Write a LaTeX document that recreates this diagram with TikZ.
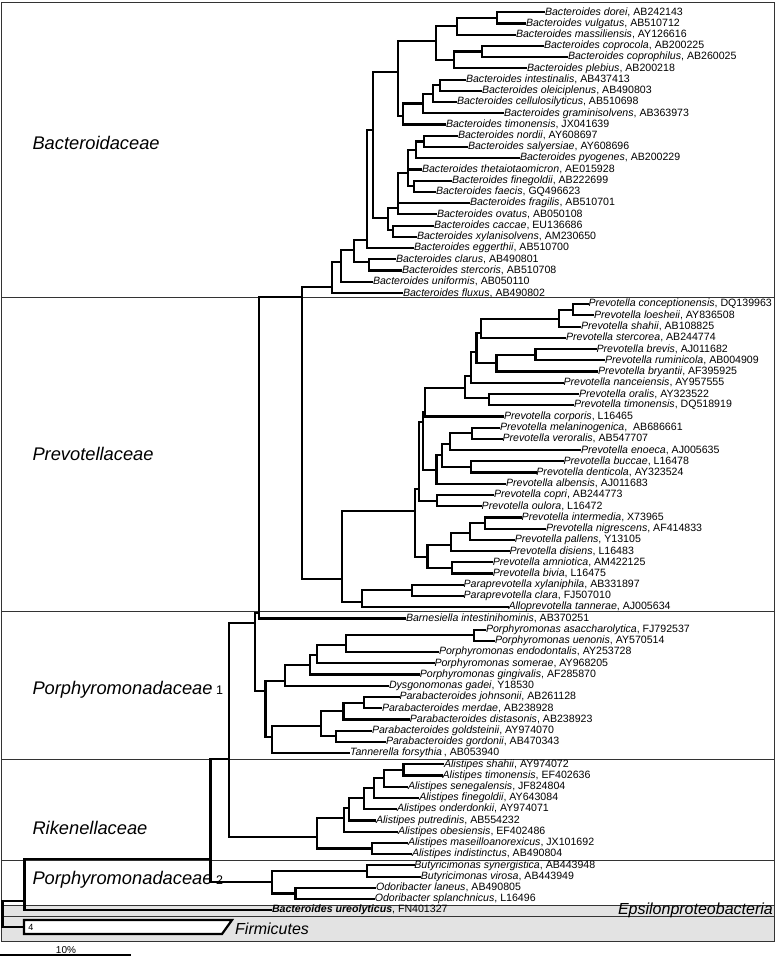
\documentclass[tikz,border=0pt]{standalone}
\usepackage{fontspec}
\setmainfont{Liberation Sans}
\begin{document}
\begin{tikzpicture}[x=1pt, y=-1pt,
   branch/.style={line width=2.2pt, line cap=rect},
   leaf/.style={anchor=west, inner sep=0.8pt, font=\fontsize{10.6}{12}\selectfont},
   family/.style={anchor=west, inner sep=0pt, font=\fontsize{18.3}{20}\selectfont\itshape},
   outgroup/.style={inner sep=0pt, font=\fontsize{16}{18}\selectfont\itshape},
   box/.style={draw=black!80, line width=0.8pt}]
   \useasboundingbox (0,0) rectangle (776,958);

   % boxes of the families
   \fill[gray!22] (1.5,905.5) rectangle (774.5,941);
   \draw[box] (1.5,2.5) rectangle (774.5,941);
   \foreach \yy in {297.5, 611, 759.5, 860.5, 905.5, 916.5}
      \draw[box] (1.5,\yy) -- (774.5,\yy);

   \node[family] (famBac) at (32.3,142.5) {Bacteroidaceae};
   \node[family] (famPre) at (32.3,453.5) {Prevotellaceae};
   \node[family] (famPorA) at (32.3,689.3) {Porphyromonadaceae\upshape\fontsize{12.5}{14}\selectfont\ 1};
   \node[family] (famRik) at (32.3,827.7) {Rikenellaceae};
   \node[family] (famPorB) at (32.3,879.3) {Porphyromonadaceae\upshape\fontsize{12.5}{14}\selectfont\ 2};
   \node[outgroup, anchor=east] (famEps) at (773,910) {Epsilonproteobacteria};
   \node[outgroup, anchor=west] (famFir) at (235,929) {Firmicutes};

   % Bacteroidaceae
   \node[leaf] (bdorei) at (544,12.3) {\textit{Bacteroides dorei}, AB242143};
   \node[leaf] (bvulgatus) at (525,23.5) {\textit{Bacteroides vulgatus}, AB510712};
   \node[leaf] (bmassil) at (515,34.7) {\textit{Bacteroides massiliensis}, AY126616};
   \node[leaf] (bcoproc) at (543,46.0) {\textit{Bacteroides coprocola}, AB200225};
   \node[leaf] (bcoproph) at (567,57.2) {\textit{Bacteroides coprophilus}, AB260025};
   \node[leaf] (bplebius) at (526,68.4) {\textit{Bacteroides plebius}, AB200218};
   \node[leaf] (bintest) at (465,79.6) {\textit{Bacteroides intestinalis}, AB437413};
   \node[leaf] (boleic) at (481,90.9) {\textit{Bacteroides oleiciplenus}, AB490803};
   \node[leaf] (bcellul) at (456,102.1) {\textit{Bacteroides cellulosilyticus}, AB510698};
   \node[leaf] (bgramin) at (503,113.3) {\textit{Bacteroides graminisolvens}, AB363973};
   \node[leaf] (btimon) at (445,124.5) {\textit{Bacteroides timonensis}, JX041639};
   \node[leaf] (bnordii) at (457,135.8) {\textit{Bacteroides nordii}, AY608697};
   \node[leaf] (bsalyer) at (467,147.0) {\textit{Bacteroides salyersiae}, AY608696};
   \node[leaf] (bpyog) at (519,158.2) {\textit{Bacteroides pyogenes}, AB200229};
   \node[leaf] (btheta) at (421,169.4) {\textit{Bacteroides thetaiotaomicron}, AE015928};
   \node[leaf] (bfineg) at (451,180.7) {\textit{Bacteroides finegoldii}, AB222699};
   \node[leaf] (bfaecis) at (435,191.9) {\textit{Bacteroides faecis}, GQ496623};
   \node[leaf] (bfragil) at (469,203.1) {\textit{Bacteroides fragilis}, AB510701};
   \node[leaf] (bovatus) at (436,214.3) {\textit{Bacteroides ovatus}, AB050108};
   \node[leaf] (bcaccae) at (433,225.6) {\textit{Bacteroides caccae}, EU136686};
   \node[leaf] (bxylan) at (416,236.8) {\textit{Bacteroides xylanisolvens}, AM230650};
   \node[leaf] (beggerth) at (413,248.0) {\textit{Bacteroides eggerthii}, AB510700};
   \node[leaf] (bclarus) at (395,259.2) {\textit{Bacteroides clarus}, AB490801};
   \node[leaf] (bsterc) at (401,270.5) {\textit{Bacteroides stercoris}, AB510708};
   \node[leaf] (buniform) at (372,281.7) {\textit{Bacteroides uniformis}, AB050110};
   \node[leaf] (bfluxus) at (402,292.9) {\textit{Bacteroides fluxus}, AB490802};

   \coordinate (b1) at (496.7,17.9);
   \coordinate (b2) at (456.7,26.3);
   \coordinate (b3) at (481.7,51.6);
   \coordinate (b4) at (454.3,60.0);
   \coordinate (b5) at (436,41);
   \coordinate (b6) at (440,85.2);
   \coordinate (b7) at (432.7,93.6);
   \coordinate (b8) at (423.3,103.4);
   \coordinate (b9) at (402.7,116);
   \coordinate (b10) at (398.3,71.7);
   \coordinate (b11) at (424.3,141.4);
   \coordinate (b12) at (416,149.8);
   \coordinate (b13) at (414,186.3);
   \coordinate (b14) at (408.3,173);
   \coordinate (b15) at (398.3,208.3);
   \coordinate (b16) at (388.3,218.3);
   \coordinate (b17) at (392.7,230.2);
   \coordinate (b18) at (373.3,130);
   \coordinate (b19) at (367,240);
   \coordinate (b20) at (369.3,262.3);
   \coordinate (b21) at (353.6,250);
   \coordinate (b22) at (340.7,261.7);
   \coordinate (b23) at (332,286.7);

   \draw[branch] (b1) |- (bdorei.west);  \draw[branch] (b1) |- (bvulgatus.west);
   \draw[branch] (b2) |- (b1);           \draw[branch] (b2) |- (bmassil.west);
   \draw[branch] (b3) |- (bcoproc.west); \draw[branch] (b3) |- (bcoproph.west);
   \draw[branch] (b4) |- (b3);           \draw[branch] (b4) |- (bplebius.west);
   \draw[branch] (b5) |- (b2);           \draw[branch] (b5) |- (b4);
   \draw[branch] (b6) |- (bintest.west); \draw[branch] (b6) |- (boleic.west);
   \draw[branch] (b7) |- (b6);           \draw[branch] (b7) |- (bcellul.west);
   \draw[branch] (b8) |- (b7);           \draw[branch] (b8) |- (bgramin.west);
   \draw[branch] (b9) |- (b8);           \draw[branch] (b9) |- (btimon.west);
   \draw[branch] (b10) |- (b5);          \draw[branch] (b10) |- (b9);
   \draw[branch] (b11) |- (bnordii.west); \draw[branch] (b11) |- (bsalyer.west);
   \draw[branch] (b12) |- (b11);         \draw[branch] (b12) |- (bpyog.west);
   \draw[branch] (b13) |- (bfineg.west); \draw[branch] (b13) |- (bfaecis.west);
   \draw[branch] (b14) |- (b12);         \draw[branch] (b14) |- (btheta.west);
   \draw[branch] (b14) |- (b13);
   \draw[branch] (b15) |- (b14);         \draw[branch] (b15) |- (bfragil.west);
   \draw[branch] (b15) |- (bovatus.west);
   \draw[branch] (b17) |- (bcaccae.west); \draw[branch] (b17) |- (bxylan.west);
   \draw[branch] (b16) |- (b15);         \draw[branch] (b16) |- (b17);
   \draw[branch] (b18) |- (b10);         \draw[branch] (b18) |- (b16);
   \draw[branch] (b19) |- (b18);         \draw[branch] (b19) |- (beggerth.west);
   \draw[branch] (b20) |- (bclarus.west); \draw[branch] (b20) |- (bsterc.west);
   \draw[branch] (b21) |- (b19);         \draw[branch] (b21) |- (b20);
   \draw[branch] (b22) |- (b21);         \draw[branch] (b22) |- (buniform.west);
   \draw[branch] (b23) |- (b22);         \draw[branch] (b23) |- (bfluxus.west);

   % Prevotellaceae
   \node[leaf] (pconcep) at (587.6,304.1) {\textit{Prevotella conceptionensis}, DQ139963};
   \node[leaf] (ploesh) at (593,315.3) {\textit{Prevotella loesheii}, AY836508};
   \node[leaf] (pshahii) at (580,326.6) {\textit{Prevotella shahii}, AB108825};
   \node[leaf] (psterc) at (565,337.8) {\textit{Prevotella stercorea}, AB244774};
   \node[leaf] (pbrevis) at (595.6,349.0) {\textit{Prevotella brevis}, AJ011682};
   \node[leaf] (prumin) at (604,360.2) {\textit{Prevotella ruminicola}, AB004909};
   \node[leaf] (pbryant) at (597,371.5) {\textit{Prevotella bryantii}, AF395925};
   \node[leaf] (pnance) at (562.5,382.7) {\textit{Prevotella nanceiensis}, AY957555};
   \node[leaf] (poralis) at (578,393.9) {\textit{Prevotella oralis}, AY323522};
   \node[leaf] (ptimon) at (573,405.1) {\textit{Prevotella timonensis}, DQ518919};
   \node[leaf] (pcorpor) at (503,416.4) {\textit{Prevotella corporis}, L16465};
   \node[leaf] (pmelan) at (499,427.6) {\textit{Prevotella melaninogenica},\ \ AB686661};
   \node[leaf] (pveror) at (501.6,438.8) {\textit{Prevotella veroralis}, AB547707};
   \node[leaf] (penoeca) at (580,450.0) {\textit{Prevotella enoeca}, AJ005635};
   \node[leaf] (pbuccae) at (562.5,461.3) {\textit{Prevotella buccae}, L16478};
   \node[leaf] (pdentic) at (535.4,472.5) {\textit{Prevotella denticola}, AY323524};
   \node[leaf] (palbens) at (505,483.7) {\textit{Prevotella albensis}, AJ011683};
   \node[leaf] (pcopri) at (493,494.9) {\textit{Prevotella copri}, AB244773};
   \node[leaf] (poulora) at (480.7,506.2) {\textit{Prevotella oulora}, L16472};
   \node[leaf] (pinterm) at (520.7,517.4) {\textit{Prevotella intermedia}, X73965};
   \node[leaf] (pnigresc) at (545,528.6) {\textit{Prevotella nigrescens}, AF414833};
   \node[leaf] (ppallens) at (513.8,539.8) {\textit{Prevotella pallens}, Y13105};
   \node[leaf] (pdisiens) at (508.6,551.1) {\textit{Prevotella disiens}, L16483};
   \node[leaf] (pamniot) at (491.8,562.3) {\textit{Prevotella amniotica}, AM422125};
   \node[leaf] (pbivia) at (491.8,573.5) {\textit{Prevotella bivia}, L16475};
   \node[leaf] (ppxylan) at (462.6,584.7) {\textit{Paraprevotella xylaniphila}, AB331897};
   \node[leaf] (ppclara) at (462.6,596.0) {\textit{Paraprevotella clara}, FJ507010};
   \node[leaf] (ptanner) at (507.5,607.2) {\textit{Alloprevotella tannerae}, AJ005634};

   \coordinate (p1) at (573,309.7);
   \coordinate (p2) at (559,319.3);
   \coordinate (p3) at (481,333);
   \coordinate (p4) at (535.4,354.6);
   \coordinate (p5) at (496.4,363);
   \coordinate (p6) at (476.5,352);
   \coordinate (p7) at (471.3,376);
   \coordinate (p8) at (489.3,398.3);
   \coordinate (p9) at (465,388.3);
   \coordinate (p10) at (425,411.7);
   \coordinate (p11) at (471.7,433.2);
   \coordinate (p12) at (450,444);
   \coordinate (p13) at (471.3,466.9);
   \coordinate (p14) at (441.7,455);
   \coordinate (p15) at (436.5,470);
   \coordinate (p16) at (437,500.6);
   \coordinate (p17) at (422.7,421.7);
   \coordinate (p18) at (419.3,489.3);
   \coordinate (p19) at (415,510.7);
   \coordinate (p20) at (485.2,523);
   \coordinate (p21) at (470.2,533.3);
   \coordinate (p22) at (451.1,545);
   \coordinate (p23) at (451.8,567.9);
   \coordinate (p24) at (427.4,556.7);
   \coordinate (p25) at (411.7,590.3);
   \coordinate (p26) at (361.7,601.7);
   \coordinate (p27) at (341.7,579);

   \draw[branch] (p1) |- (pconcep.west); \draw[branch] (p1) |- (ploesh.west);
   \draw[branch] (p2) |- (p1);           \draw[branch] (p2) |- (pshahii.west);
   \draw[branch] (p3) |- (p2);           \draw[branch] (p3) |- (psterc.west);
   \draw[branch] (p4) |- (pbrevis.west); \draw[branch] (p4) |- (prumin.west);
   \draw[branch] (p5) |- (p4);           \draw[branch] (p5) |- (pbryant.west);
   \draw[branch] (p6) |- (p3);           \draw[branch] (p6) |- (p5);
   \draw[branch] (p7) |- (p6);           \draw[branch] (p7) |- (pnance.west);
   \draw[branch] (p8) |- (poralis.west); \draw[branch] (p8) |- (ptimon.west);
   \draw[branch] (p9) |- (p7);           \draw[branch] (p9) |- (p8);
   \draw[branch] (p10) |- (p9);          \draw[branch] (p10) |- (pcorpor.west);
   \draw[branch] (p11) |- (pmelan.west); \draw[branch] (p11) |- (pveror.west);
   \draw[branch] (p12) |- (p11);         \draw[branch] (p12) |- (penoeca.west);
   \draw[branch] (p13) |- (pbuccae.west); \draw[branch] (p13) |- (pdentic.west);
   \draw[branch] (p14) |- (p12);         \draw[branch] (p14) |- (p13);
   \draw[branch] (p15) |- (p14);         \draw[branch] (p15) |- (palbens.west);
   \draw[branch] (p16) |- (pcopri.west); \draw[branch] (p16) |- (poulora.west);
   \draw[branch] (p17) |- (p10);         \draw[branch] (p17) |- (p15);
   \draw[branch] (p18) |- (p17);         \draw[branch] (p18) |- (p16);
   \draw[branch] (p20) |- (pinterm.west); \draw[branch] (p20) |- (pnigresc.west);
   \draw[branch] (p21) |- (p20);         \draw[branch] (p21) |- (ppallens.west);
   \draw[branch] (p22) |- (p21);         \draw[branch] (p22) |- (pdisiens.west);
   \draw[branch] (p23) |- (pamniot.west); \draw[branch] (p23) |- (pbivia.west);
   \draw[branch] (p24) |- (p22);         \draw[branch] (p24) |- (p23);
   \draw[branch] (p19) |- (p18);         \draw[branch] (p19) |- (p24);
   \draw[branch] (p25) |- (ppxylan.west); \draw[branch] (p25) |- (ppclara.west);
   \draw[branch] (p26) |- (p25);         \draw[branch] (p26) |- (ptanner.west);
   \draw[branch] (p27) |- (p19);         \draw[branch] (p27) |- (p26);

   % Porphyromonadaceae 1
   \node[leaf] (obarnes) at (405,618.4) {\textit{Barnesiella intestinihominis}, AB370251};
   \node[leaf] (oasacch) at (485,629.6) {\textit{Porphyromonas asaccharolytica}, FJ792537};
   \node[leaf] (ouenon) at (494,640.8) {\textit{Porphyromonas uenonis}, AY570514};
   \node[leaf] (oendod) at (438,652.1) {\textit{Porphyromonas endodontalis}, AY253728};
   \node[leaf] (osomer) at (433.5,663.3) {\textit{Porphyromonas somerae}, AY968205};
   \node[leaf] (ogingiv) at (418.8,674.5) {\textit{Porphyromonas gingivalis}, AF285870};
   \node[leaf] (odysgon) at (388,685.7) {\textit{Dysgonomonas gadei}, Y18530};
   \node[leaf] (ojohns) at (398.5,697.0) {\textit{Parabacteroides johnsonii}, AB261128};
   \node[leaf] (omerdae) at (381,708.2) {\textit{Parabacteroides merdae}, AB238928};
   \node[leaf] (odistas) at (408.8,719.4) {\textit{Parabacteroides distasonis}, AB238923};
   \node[leaf] (ogoldst) at (371,730.6) {\textit{Parabacteroides goldsteinii}, AY974070};
   \node[leaf] (ogordon) at (385,741.9) {\textit{Parabacteroides gordonii}, AB470343};
   \node[leaf] (otanner) at (349,753.1) {\textit{Tannerella forsythia}\,, AB053940};

   \coordinate (r1) at (302.3,297.3);
   \coordinate (r2) at (259.3,612.7);
   \coordinate (q1) at (474,635.2);
   \coordinate (q2) at (346.3,645);
   \coordinate (q3) at (317,655);
   \coordinate (q4) at (309.6,665);
   \coordinate (q5) at (284.6,681);
   \coordinate (q6) at (363.6,702.6);
   \coordinate (q7) at (343.4,711);
   \coordinate (q8) at (336,736.3);
   \coordinate (q9) at (321.3,725.7);
   \coordinate (q10) at (271.7,736.7);
   \coordinate (q11) at (265.4,690.7);
   \coordinate (q12) at (255,623.3);

   \draw[branch] (r1) |- (b23);          \draw[branch] (r1) |- (p27);
   \draw[branch] (r2) |- (r1);           \draw[branch] (r2) |- (obarnes.west);
   \draw[branch] (q1) |- (oasacch.west); \draw[branch] (q1) |- (ouenon.west);
   \draw[branch] (q2) |- (q1);           \draw[branch] (q2) |- (oendod.west);
   \draw[branch] (q3) |- (q2);           \draw[branch] (q3) |- (osomer.west);
   \draw[branch] (q4) |- (q3);           \draw[branch] (q4) |- (ogingiv.west);
   \draw[branch] (q5) |- (q4);           \draw[branch] (q5) |- (odysgon.west);
   \draw[branch] (q6) |- (ojohns.west);  \draw[branch] (q6) |- (omerdae.west);
   \draw[branch] (q7) |- (q6);           \draw[branch] (q7) |- (odistas.west);
   \draw[branch] (q8) |- (ogoldst.west); \draw[branch] (q8) |- (ogordon.west);
   \draw[branch] (q9) |- (q7);           \draw[branch] (q9) |- (q8);
   \draw[branch] (q10) |- (q9);          \draw[branch] (q10) |- (otanner.west);
   \draw[branch] (q11) |- (q5);          \draw[branch] (q11) |- (q10);
   \draw[branch] (q12) |- (r2);          \draw[branch] (q12) |- (q11);

   % Rikenellaceae
   \node[leaf] (ashahii) at (443,764.3) {\textit{Alistipes shahii}, AY974072};
   \node[leaf] (atimon) at (441.6,775.5) {\textit{Alistipes timonensis}, EF402636};
   \node[leaf] (asenegal) at (407,786.8) {\textit{Alistipes senegalensis}, JF824804};
   \node[leaf] (afineg) at (418.3,798.0) {\textit{Alistipes finegoldii}, AY643084};
   \node[leaf] (aonderd) at (396,809.2) {\textit{Alistipes onderdonkii}, AY974071};
   \node[leaf] (aputred) at (375,820.4) {\textit{Alistipes putredinis}, AB554232};
   \node[leaf] (aobes) at (397,831.7) {\textit{Alistipes obesiensis}, EF402486};
   \node[leaf] (amaseil) at (407,842.9) {\textit{Alistipes maseilloanorexicus}, JX101692};
   \node[leaf] (aindist) at (411,854.1) {\textit{Alistipes indistinctus}, AB490804};

   \coordinate (s1) at (403.5,769.9);
   \coordinate (s2) at (383.7,778);
   \coordinate (s3) at (373.8,788);
   \coordinate (s4) at (363.9,798);
   \coordinate (s5) at (349,808);
   \coordinate (s6) at (344,818);
   \coordinate (s7) at (372.3,848.5);
   \coordinate (s8) at (316.8,836.7);
   \coordinate (q13) at (229,759);

   \draw[branch] (s1) |- (ashahii.west); \draw[branch] (s1) |- (atimon.west);
   \draw[branch] (s2) |- (s1);           \draw[branch] (s2) |- (asenegal.west);
   \draw[branch] (s3) |- (s2);           \draw[branch] (s3) |- (afineg.west);
   \draw[branch] (s4) |- (s3);           \draw[branch] (s4) |- (aonderd.west);
   \draw[branch] (s5) |- (s4);           \draw[branch] (s5) |- (aputred.west);
   \draw[branch] (s6) |- (s5);           \draw[branch] (s6) |- (aobes.west);
   \draw[branch] (s7) |- (amaseil.west); \draw[branch] (s7) |- (aindist.west);
   \draw[branch] (s8) |- (s6);           \draw[branch] (s8) |- (s7);
   \draw[branch] (q13) |- (q12);         \draw[branch] (q13) |- (s8);

   % Porphyromonadaceae 2 and outgroups
   \node[leaf] (tsynerg) at (413.4,865.3) {\textit{Butyricimonas synergistica}, AB443948};
   \node[leaf] (tvirosa) at (419.8,876.6) {\textit{Butyricimonas virosa}, AB443949};
   \node[leaf] (tlaneus) at (375,887.8) {\textit{Odoribacter laneus}, AB490805};
   \node[leaf] (tsplanch) at (373.8,899.0) {\textit{Odoribacter splanchnicus}, L16496};
   \node[leaf] (ureol) at (271,910.2) {\textbf{\textit{Bacteroides ureolyticus}}, FN401327};

   \coordinate (t1) at (367.3,871);
   \coordinate (t2) at (295.5,893.4);
   \coordinate (t3) at (272.3,881.7);
   \coordinate (q14) at (210.4,859.3);
   \coordinate (u1) at (24.5,900.7);
   \coordinate (root) at (2.5,914);
   \coordinate (firmi) at (24,927);

   \draw[branch] (t1) |- (tsynerg.west); \draw[branch] (t1) |- (tvirosa.west);
   \draw[branch] (t2) |- (tlaneus.west); \draw[branch] (t2) |- (tsplanch.west);
   \draw[branch] (t3) |- (t1);           \draw[branch] (t3) |- (t2);
   \draw[branch] (q14) |- (q13);         \draw[branch] (q14) |- (t3);
   \draw[branch] (u1) |- (q14);          \draw[branch] (u1) |- (ureol.west);
   \draw[branch] (root) |- (u1);         \draw[branch] (root) |- (firmi);

   % collapsed Firmicutes
   \draw[branch, line join=miter, fill=white] (24,920) -- (232,920) -- (222,934) -- (24,934) -- cycle;
   \node[inner sep=0pt, font=\fontsize{9}{10}\selectfont] (firnum) at (31,927.5) {4};

   % scale bar
   \draw[line width=1.6pt] (0,955) -- (131,955);
   \node[anchor=south, inner sep=0.5pt, font=\fontsize{10}{11}\selectfont] (scalelab) at (66,954) {10\%};
\end{tikzpicture}
\end{document}
